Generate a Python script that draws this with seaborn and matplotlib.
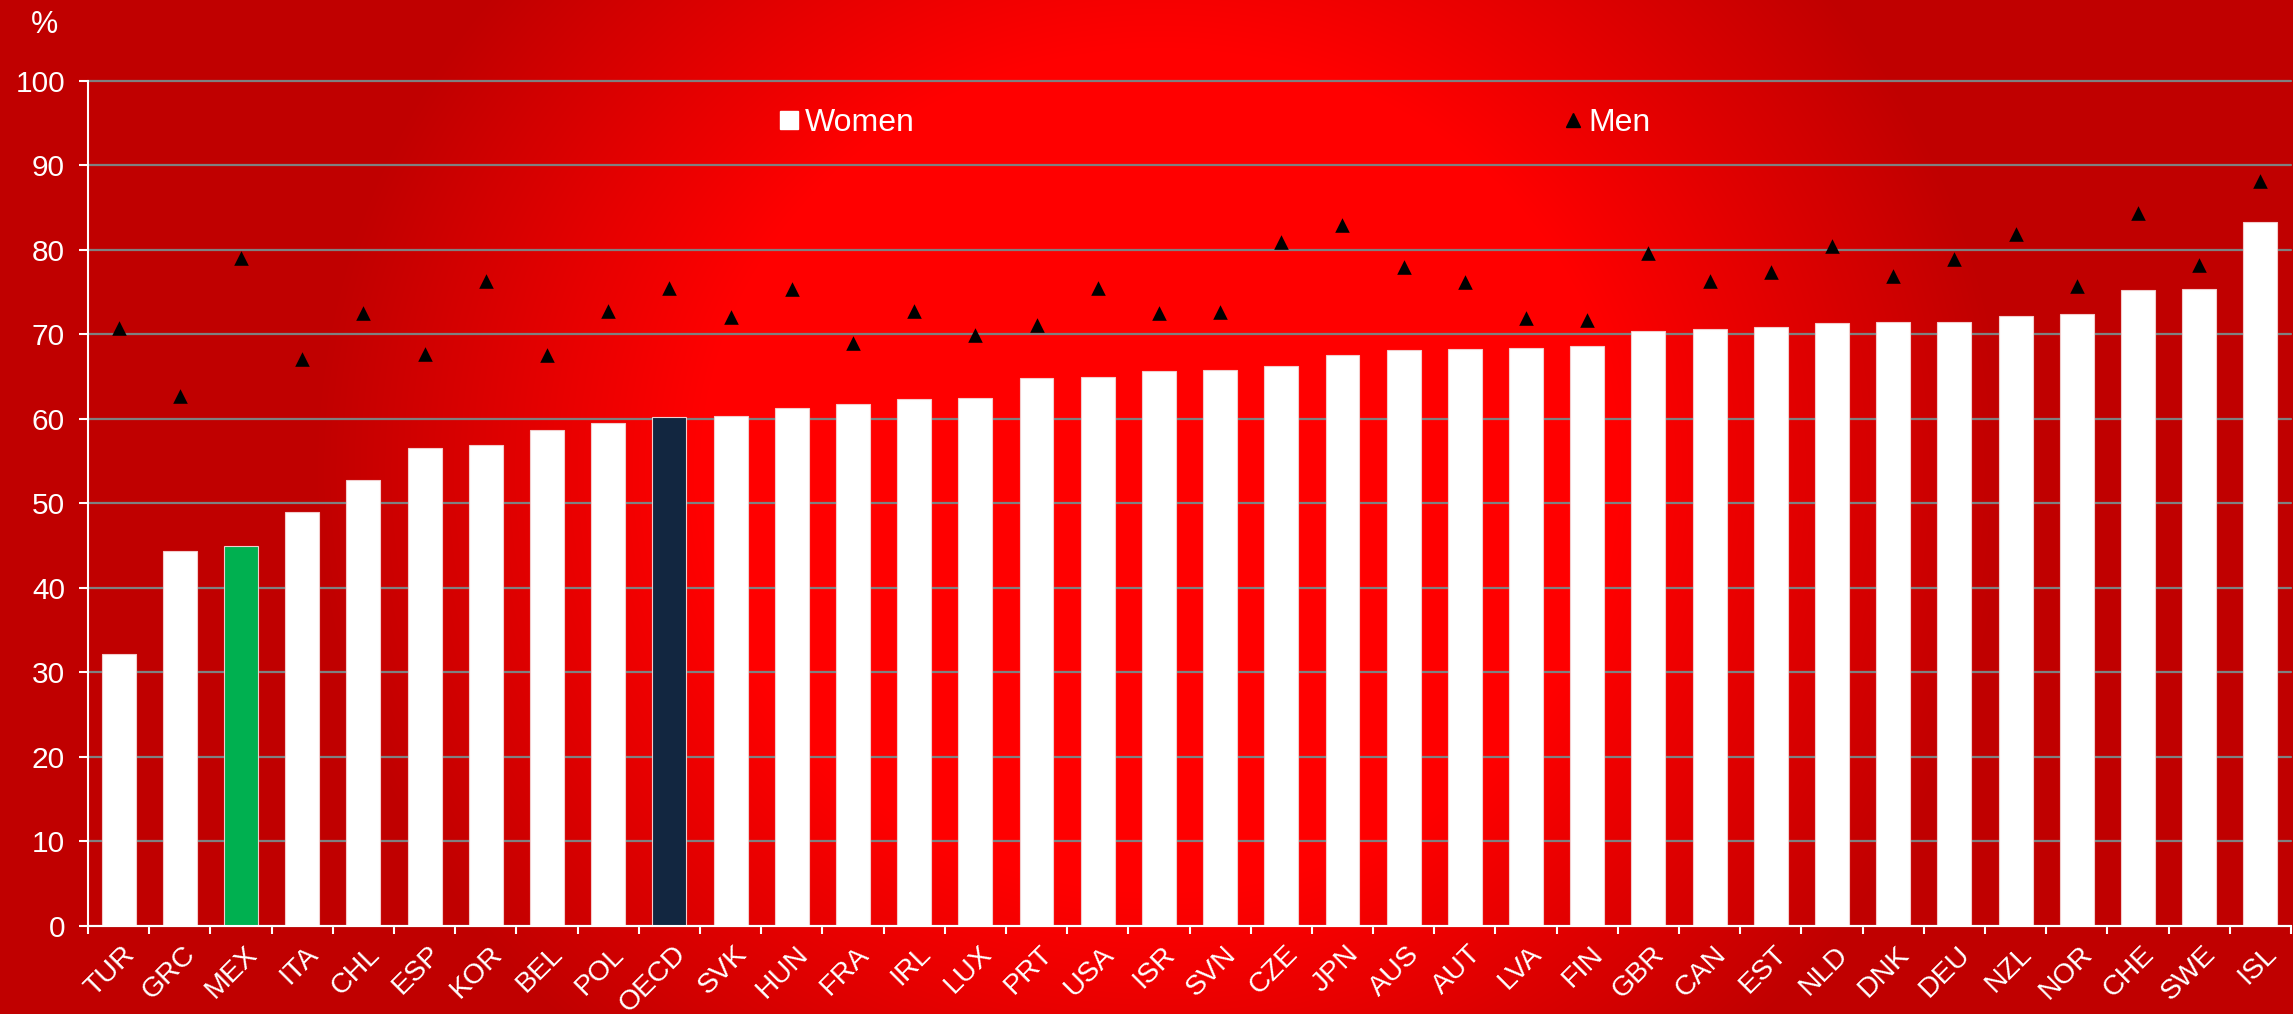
import numpy as np
import pandas as pd
import matplotlib
matplotlib.use("Agg")
import matplotlib.pyplot as plt
from matplotlib.lines import Line2D
from matplotlib.colors import LinearSegmentedColormap
from matplotlib.transforms import ScaledTranslation
import seaborn as sns

# ---- data -------------------------------------------------------------
countries = ["TUR", "GRC", "MEX", "ITA", "CHL", "ESP", "KOR", "BEL", "POL", "OECD",
             "SVK", "HUN", "FRA", "IRL", "LUX", "PRT", "USA", "ISR", "SVN", "CZE",
             "JPN", "AUS", "AUT", "LVA", "FIN", "GBR", "CAN", "EST", "NLD", "DNK",
             "DEU", "NZL", "NOR", "CHE", "SWE", "ISL"]
women = [32.1, 44.4, 44.9, 48.9, 52.7, 56.5, 56.9, 58.7, 59.5, 60.2,
         60.3, 61.3, 61.7, 62.3, 62.5, 64.8, 64.9, 65.6, 65.8, 66.2,
         67.5, 68.1, 68.2, 68.4, 68.6, 70.4, 70.6, 70.9, 71.3, 71.5,
         71.5, 72.1, 72.4, 75.2, 75.4, 83.3]
men = [70.7, 62.7, 79.0, 67.1, 72.5, 67.6, 76.3, 67.5, 72.8, 75.5,
       72.0, 75.3, 68.9, 72.7, 69.9, 71.1, 75.5, 72.5, 72.6, 80.9,
       82.9, 77.9, 76.2, 71.9, 71.7, 79.6, 76.3, 77.4, 80.4, 76.9,
       78.9, 81.9, 75.7, 84.3, 78.2, 88.1]
yticks = list(range(0, 101, 10))
legend_labels = ["Women", "Men"]

# ---- style ------------------------------------------------------------
sns.set_style("ticks")
plt.rcParams["font.family"] = ["Liberation Sans", "DejaVu Sans"]

W, H, DPI = 2293, 1014, 100
fig = plt.figure(figsize=(W / DPI, H / DPI), dpi=DPI)
fig.patch.set_facecolor("#c00000")

# radial red background
bg = fig.add_axes([0, 0, 1, 1], zorder=-10)
xx, yy = np.meshgrid(np.arange(W), np.arange(H))
d = np.sqrt(((xx - 1160) / 850.0) ** 2 + ((yy - 470) / 780.0) ** 2)
t = np.clip((d - 0.54) / (1.0 - 0.54), 0, 1)
cmap_bg = LinearSegmentedColormap.from_list("bg", ["#ff0000", "#c00000"])
bg.imshow(t, cmap=cmap_bg, vmin=0, vmax=1, aspect="auto", interpolation="bilinear")
bg.set_axis_off()

ax = fig.add_axes([88 / W, (H - 925.7) / H, (2291 - 88) / W, (925.7 - 80.7) / H])
ax.set_facecolor("none")

df = pd.DataFrame({"country": countries, "women": women, "men": men})
palette = {c: "white" for c in countries}
palette["MEX"] = "#00b050"
palette["OECD"] = "#122640"

sns.barplot(data=df, x="country", y="women", hue="country", palette=palette,
            order=countries, hue_order=countries, legend=False, width=0.555,
            edgecolor="#f3cccc", linewidth=0.8, saturation=1, ax=ax, zorder=2)
sns.stripplot(data=df, x="country", y="men", order=countries, jitter=False,
              marker="^", color="black", size=10.5, linewidth=0, ax=ax, zorder=3)

ax.set_xlim(-0.5, len(countries) - 0.5)
ax.set_ylim(0, 100)
ax.set_yticks(yticks)
ax.set_xlabel("")
ax.set_ylabel("")

# gridlines
ax.set_axisbelow(True)
ax.yaxis.grid(True, color="#808080", linewidth=1.6)
for gl in ax.get_ygridlines():
    gl.set_clip_on(False)

# spines
for s in ["top", "right"]:
    ax.spines[s].set_visible(False)
for s in ["left", "bottom"]:
    ax.spines[s].set_color("white")
    ax.spines[s].set_linewidth(1.5)

# ticks
ax.tick_params(axis="y", colors="white", labelsize=21.5, length=6.5, width=1.5, pad=10)
ax.set_xticks(np.arange(len(countries)))
ax.set_xticklabels(countries)
ax.set_xticks(np.arange(len(countries) + 1) - 0.5, minor=True)
ax.tick_params(axis="x", which="major", length=0, pad=11, labelsize=20.5, labelcolor="white")
ax.tick_params(axis="x", which="minor", length=6, width=1.5, color="white")
for lab in ax.get_xticklabels():
    lab.set_rotation(45)
    lab.set_ha("right")
    lab.set_va("top")
    lab.set_rotation_mode("anchor")
    lab.set_transform(lab.get_transform() + ScaledTranslation(3 / DPI, 0, fig.dpi_scale_trans))

# unit label
fig.text(44 / W, 1 - 25 / H, "%", color="white", fontsize=22, ha="center", va="center")

# legend
handles = [
    Line2D([], [], marker="s", color="white", linestyle="none", markersize=13),
    Line2D([], [], marker="^", color="black", linestyle="none", markersize=10.5),
]
fig.legend(handles, legend_labels, ncol=2, loc="center left",
           bbox_to_anchor=(776 / W, 1 - 123 / H), frameon=False, fontsize=23,
           labelcolor="white", handlelength=0.8, handletextpad=0.1,
           columnspacing=20.2, borderpad=0, borderaxespad=0)

fig.savefig("out.png", dpi=DPI)
